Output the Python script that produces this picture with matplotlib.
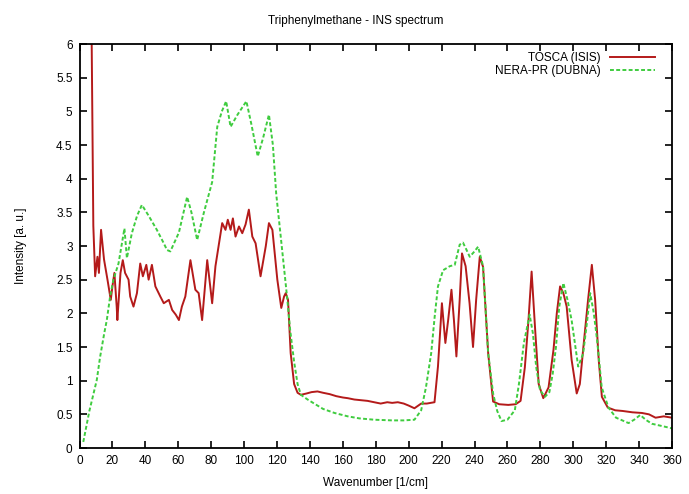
import matplotlib
matplotlib.use("Agg")
import matplotlib.pyplot as plt

plt.rcParams['font.family'] = ['Liberation Sans', 'DejaVu Sans']

# TOSCA (ISIS) data
tosca_x = [7.3, 8.0, 8.4, 9.5, 10.9, 11.8, 13.1, 14.9, 17.0, 19.0, 20.0, 21.2, 22.6, 23.0,
           24.9, 26.3, 27.7, 29.8, 30.8, 32.8, 34.9, 36.9, 38.5, 40.6, 42.0, 44.0, 46.1,
           49.1, 51.2, 54.3, 56.3, 58.5, 60.4, 62.2, 64.3, 67.4, 70.4, 72.4, 74.5, 77.6,
           80.6, 82.6, 84.5, 86.7, 88.7, 90.1, 91.8, 93.2, 94.8, 96.9, 98.9, 100.9, 102.9,
           105.0, 107.0, 110.0, 113.2, 115.1, 117.2, 120.2, 122.6, 124.3, 125.3, 126.7,
           128.3, 130.4, 132.5, 134.5, 138.0, 141.0, 144.6, 148.0, 152.0, 156.0, 160.0,
           163.0, 167.0, 171.0, 175.0, 179.0, 183.0, 187.0, 190.0, 193.4, 197.0, 200.0,
           203.5, 207.6, 211.0, 215.7, 217.8, 220.2, 222.3, 224.0, 226.0, 227.5, 229.0,
           231.0, 232.4, 234.6, 237.0, 239.1, 241.0, 243.2, 245.2, 248.3, 251.3, 255.0,
           260.5, 265.0, 268.0, 270.6, 272.8, 274.7, 277.0, 279.0, 281.8, 285.0, 288.0,
           290.0, 292.0, 294.0, 296.0, 299.0, 302.1, 304.0, 306.0, 309.0, 311.3, 313.3,
           315.5, 317.4, 321.0, 325.5, 330.0, 336.0, 341.8, 346.0, 350.0, 355.0, 360.0]
tosca_y = [6.3, 4.5, 3.3, 2.55, 2.84, 2.6, 3.24, 2.8, 2.5, 2.2, 2.4, 2.6, 2.1, 1.9,
           2.6, 2.79, 2.6, 2.5, 2.25, 2.1, 2.3, 2.74, 2.55, 2.72, 2.5, 2.72, 2.4,
           2.25, 2.15, 2.2, 2.05, 1.98, 1.9, 2.1, 2.25, 2.79, 2.35, 2.3, 1.9, 2.79,
           2.15, 2.7, 3.0, 3.34, 3.24, 3.39, 3.24, 3.41, 3.14, 3.29, 3.19, 3.32, 3.54,
           3.14, 3.04, 2.55, 3.0, 3.34, 3.24, 2.5, 2.08, 2.25, 2.3, 2.2,
           1.41, 0.95, 0.82, 0.79, 0.81, 0.83, 0.84, 0.82, 0.80, 0.77, 0.75,
           0.74, 0.72, 0.71, 0.70, 0.68, 0.66, 0.68, 0.67, 0.68, 0.66, 0.63,
           0.59, 0.66, 0.66, 0.68, 1.21, 2.15, 1.56, 1.9, 2.35, 1.9, 1.36,
           2.2, 2.89, 2.7, 2.15, 1.5, 2.2, 2.84, 2.69, 1.41, 0.69, 0.65,
           0.64, 0.65, 0.7, 1.2, 1.9, 2.62, 1.7, 0.95, 0.74, 0.9, 1.46,
           2.0, 2.4, 2.3, 2.1, 1.31, 0.81, 0.95, 1.46, 2.2, 2.72, 2.2,
           1.3, 0.76, 0.6, 0.56, 0.55, 0.53, 0.52, 0.5, 0.45, 0.47, 0.45]

# NERA-PR (DUBNA) data
nera_x = [2.3, 6.0, 10.5, 12.5, 15.0, 16.6, 18.6, 20.6, 23.7, 27.3, 28.8, 31.8, 35.0, 37.9,
          42.0, 47.0, 51.0, 53.2, 55.2, 60.4, 65.4, 68.0, 71.5, 75.5, 80.6, 83.7, 86.5,
          89.1, 91.8, 96.0, 101.4, 104.5, 108.3, 111.5, 115.1, 117.5, 119.5, 123.3,
          126.3, 128.0, 130.4, 132.5, 134.5, 138.6, 142.6, 148.0, 155.0, 163.0, 170.0,
          179.0, 190.0, 197.0, 203.5, 207.6, 210.5, 213.7, 215.8, 217.8, 220.9, 225.0,
          228.0, 231.0, 233.0, 235.0, 237.1, 240.0, 242.2, 245.2, 248.3, 251.3, 253.8,
          256.4, 260.0, 264.5, 267.0, 270.0, 273.5, 275.5, 277.5, 279.8, 282.8, 285.5,
          287.5, 289.5, 291.5, 294.0, 296.5, 299.0, 303.0, 306.0, 308.5, 310.3, 312.5,
          314.5, 317.3, 321.4, 326.0, 333.6, 337.0, 340.7, 344.0, 347.8, 355.0, 362.0]
nera_y = [0.09, 0.55, 1.01, 1.35, 1.7, 1.9, 2.25, 2.5, 2.74, 3.26, 2.82, 3.19, 3.45, 3.61,
          3.45, 3.24, 3.05, 2.94, 2.92, 3.2, 3.73, 3.5, 3.09, 3.49, 3.95, 4.77, 5.0,
          5.15, 4.77, 4.95, 5.15, 4.8, 4.33, 4.6, 4.95, 4.5, 3.78, 2.9,
          2.2, 1.75, 1.28, 0.95, 0.79, 0.72, 0.66, 0.58, 0.52, 0.47, 0.44,
          0.42, 0.41, 0.41, 0.42, 0.56, 0.9, 1.41, 1.95, 2.4, 2.64, 2.7,
          2.72, 3.02, 3.05, 2.95, 2.84, 2.92, 2.99, 2.7, 1.41, 0.81, 0.55,
          0.40, 0.42, 0.56, 0.95, 1.56, 1.98, 1.7, 1.2, 0.86, 0.76, 0.83,
          1.1, 1.5, 2.1, 2.45, 2.2, 1.9, 1.21, 1.4, 1.9, 2.3, 2.0,
          1.6, 0.9, 0.6, 0.45, 0.37, 0.42, 0.49, 0.42, 0.36, 0.32, 0.28]

x_ticks = list(range(0, 361, 20))
y_ticks = [0, 0.5, 1, 1.5, 2, 2.5, 3, 3.5, 4, 4.5, 5, 5.5, 6]
y_tick_labels = ['0', '0.5', '1', '1.5', '2', '2.5', '3', '3.5', '4', '4.5', '5', '5.5', '6']

fig = plt.figure(figsize=(6.89, 4.94), dpi=100)
ax = fig.add_axes([79.5 / 689, 1 - 448 / 494, (672 - 79.5) / 689, (448 - 44) / 494])

ax.plot(tosca_x, tosca_y, color='#b41a1a', lw=1.4, label='TOSCA (ISIS)')
ax.plot(nera_x, nera_y, color='#3fcc3f', lw=1.4, linestyle=(0, (2, 1.2)),
        label='NERA-PR (DUBNA)')

ax.set_xlim(0, 360)
ax.set_ylim(0, 6)
ax.set_xticks(x_ticks)
ax.set_xticklabels([str(t) for t in x_ticks])
ax.set_yticks(y_ticks)
ax.set_yticklabels(y_tick_labels)
ax.tick_params(direction='in', length=5, width=1.2, top=True, right=True,
               labelsize=8.5, pad=5)
for s in ax.spines.values():
    s.set_linewidth(1.3)

ax.set_xlabel('Wavenumber [1/cm]', fontsize=8.5, labelpad=7)
ax.set_ylabel('Intensity [a. u.]', fontsize=8.5, labelpad=21)
fig.text(356 / 689, 1 - 21 / 494, 'Triphenylmethane - INS spectrum', fontsize=8.5,
         ha='center', va='center')

leg = ax.legend(loc='upper right', frameon=False, fontsize=8.5, markerfirst=False,
                handlelength=3.8, handletextpad=0.8, labelspacing=0.1,
                borderaxespad=0.3, bbox_to_anchor=(0.985, 1.0))

fig.savefig('out.png', dpi=100)
